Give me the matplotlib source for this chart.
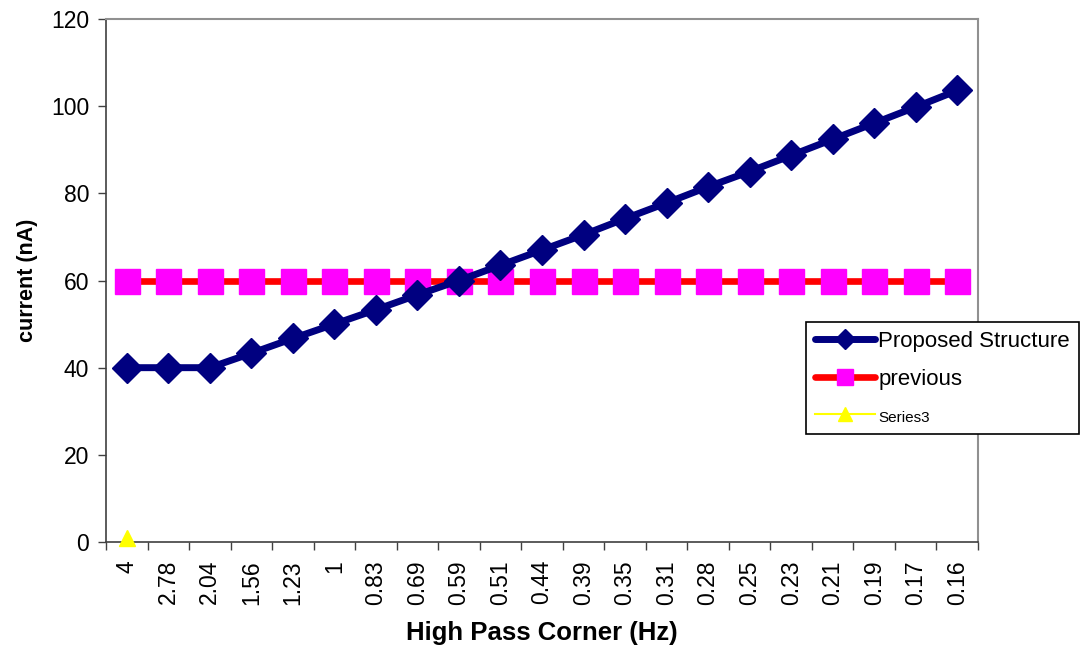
import numpy as np
import matplotlib
matplotlib.use("Agg")
import matplotlib.pyplot as plt

plt.rcParams['font.family'] = ['Liberation Sans', 'DejaVu Sans']

# High pass corner frequencies (Hz), one category per measurement
corners = ["4", "2.78", "2.04", "1.56", "1.23", "1", "0.83", "0.69", "0.59",
           "0.51", "0.44", "0.39", "0.35", "0.31", "0.28", "0.25", "0.23",
           "0.21", "0.19", "0.17", "0.16"]

# Bias current (nA)
proposed = [40, 40, 40, 43.3, 46.7, 50, 53.3, 56.7, 60, 63.5, 67, 70.5,
            74.2, 77.8, 81.5, 85, 88.7, 92.4, 96.1, 99.8, 103.6]
previous = [60] * len(corners)
series3 = [1]

y_ticks = [0, 20, 40, 60, 80, 100, 120]

fig = plt.figure(figsize=(10.85, 6.48), dpi=100)
ax = fig.add_axes([106 / 1085, 1 - 542 / 648, 872 / 1085, 523 / 648])

x = np.arange(len(corners))
ax.plot(x, proposed, color='#000080', lw=5, marker='D', ms=15,
        mfc='#000080', mec='#000080', label='Proposed Structure',
        solid_joinstyle='round', solid_capstyle='round', zorder=3)
ax.plot(x, previous, color='#FF0000', lw=4.8, marker='s', ms=18,
        mfc='#FF00FF', mec='#FF00FF', label='previous',
        solid_capstyle='round', zorder=2)
ax.plot(np.arange(len(series3)), series3, color='#FFFF00', lw=1.5,
        marker='^', ms=11, mfc='#FFFF00', mec='#FFFF00', label='Series3',
        clip_on=False, zorder=4)

ax.set_xlim(-0.5, len(corners) - 0.5)
ax.set_ylim(0, 120)
ax.set_yticks(y_ticks)
ax.set_yticklabels([str(v) for v in y_ticks])
ax.set_xticks(x)
ax.set_xticklabels(corners, rotation=90, va='top', ha='center')
ax.set_xticks(np.arange(-0.5, len(corners), 1), minor=True)

ax.tick_params(axis='x', which='major', length=0, pad=13, labelsize=16.5)
ax.tick_params(axis='x', which='minor', length=6, width=1, direction='out',
               color='#404040')
ax.tick_params(axis='y', which='major', length=6, width=1, direction='out',
               pad=6, labelsize=16.5, color='#404040')

for side in ('left', 'bottom'):
    ax.spines[side].set_color('#404040')
    ax.spines[side].set_linewidth(1.2)
for side in ('top', 'right'):
    ax.spines[side].set_color('#909090')
    ax.spines[side].set_linewidth(1.5)

ax.set_xlabel('High Pass Corner (Hz)', fontsize=18.5, fontweight='bold')
ax.set_ylabel('current (nA)', fontsize=15.5, fontweight='bold')
ax.xaxis.set_label_coords(0.5, (542 - 633) / 523)
ax.xaxis.label.set_va('center')
ax.yaxis.set_label_coords((28 - 106) / 872, 0.5)
ax.yaxis.label.set_va('center')
ax.yaxis.label.set_rotation_mode('default')

leg = ax.legend(loc='upper left', bbox_to_anchor=(806 / 1085, 1 - 322 / 648),
                bbox_transform=fig.transFigure, borderaxespad=0,
                fontsize=16, handlelength=2.7, handletextpad=0.15,
                labelspacing=0.75, borderpad=0.4, markerscale=0.65,
                fancybox=False, framealpha=1, edgecolor='black')
leg.get_frame().set_linewidth(1.2)
leg.get_texts()[2].set_fontsize(11)
leg.legend_handles[2].set_markersize(10)

fig.savefig('out.png', dpi=100)
